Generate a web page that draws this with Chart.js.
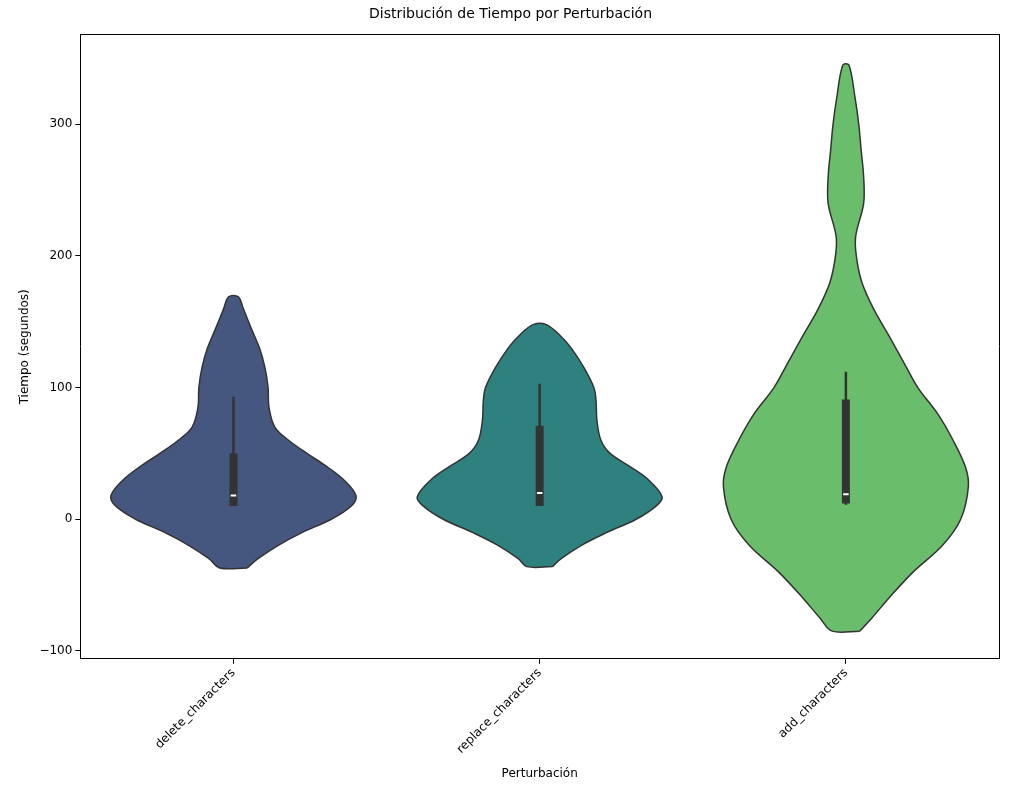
<!DOCTYPE html>
<html>
<head>
<meta charset="utf-8">
<script src="https://cdn.jsdelivr.net/npm/chart.js@4"></script>
<style>
  body { margin: 0; background: #fff; }
  #wrap { width: 1017px; height: 791px; }
</style>
</head>
<body>
<div id="wrap"><canvas id="violin"></canvas></div>
<script>
const categories = ['delete_characters', 'replace_characters', 'add_characters'];
const colours = ['#45577f', '#2e817e', '#6abd6a'];

// density outline: value levels and half-widths (in category units)
const deleteLevels = [-37, -30, -20, -10, 0, 10, 18, 30, 40, 50, 60, 70, 85, 100, 115, 130, 145, 160, 169];
const deleteWidths = [0.045, 0.08, 0.145, 0.225, 0.32, 0.385, 0.4, 0.36, 0.305, 0.24, 0.18, 0.135, 0.116, 0.113, 0.103, 0.085, 0.058, 0.032, 0.016];
const replaceLevels = [-36, -30, -20, -10, 0, 10, 17, 30, 40, 50, 60, 75, 90, 100, 115, 130, 140, 148];
const replaceWidths = [0.042, 0.07, 0.135, 0.22, 0.315, 0.38, 0.4, 0.355, 0.295, 0.23, 0.2, 0.187, 0.184, 0.177, 0.145, 0.103, 0.065, 0.02];
const addLevels = [-85, -75, -60, -40, -20, 0, 25, 40, 60, 80, 100, 120, 140, 160, 180, 200, 215, 240, 260, 280, 300, 320, 345];
const addWidths = [0.045, 0.085, 0.14, 0.22, 0.315, 0.375, 0.4, 0.39, 0.35, 0.3, 0.235, 0.187, 0.139, 0.09, 0.052, 0.034, 0.032, 0.058, 0.058, 0.05, 0.042, 0.03, 0.01];

// box stats: min whisker, q1, median, q3, max whisker
const lowWhisker = [10, 10, 11];
const q1 = [10, 10, 12];
const medians = [18, 20, 19];
const q3 = [50, 71, 91];
const highWhisker = [93, 103, 112];

const levels = [deleteLevels, replaceLevels, addLevels];
const widths = [deleteWidths, replaceWidths, addWidths];

const datasets = [];
levels.forEach((lv, i) => {
    let right = lv.map((y, k) => ({ x: i + widths[i][k], y: y }));
    let left = lv.map((y, k) => ({ x: i - widths[i][k], y: y })).reverse();
    datasets.push({
        data: right.concat(left, [right[0]]),
        showLine: true,
        tension: 0.35,
        borderColor: '#333333',
        borderWidth: 1.5,
        backgroundColor: colours[i],
        fill: 'shape',
        pointRadius: 0,
        order: 10,
    });
    datasets.push({
        data: [{ x: i, y: lowWhisker[i] }, { x: i, y: highWhisker[i] }],
        showLine: true, borderColor: '#333333', borderWidth: 2.5, pointRadius: 0, order: 3,
    });
    datasets.push({
        data: [{ x: i, y: q1[i] }, { x: i, y: q3[i] }],
        showLine: true, borderColor: '#333333', borderWidth: 8, pointRadius: 0, borderCapStyle: 'butt', order: 2,
    });
    datasets.push({
        data: [{ x: i - 0.009, y: medians[i] }, { x: i + 0.009, y: medians[i] }],
        showLine: true, borderColor: '#ffffff', borderWidth: 2, pointRadius: 0, order: 1,
    });
});

const fontSpec = { family: 'DejaVu Sans', size: 12 };
Chart.defaults.color = '#000';
const tickGrid = { display: true, drawOnChartArea: false, drawTicks: true, tickLength: 5, tickColor: '#000' };

new Chart(document.getElementById('violin').getContext('2d'), {
    type: 'scatter',
    data: { datasets: datasets },
    options: {
        responsive: true,
        maintainAspectRatio: false,
        animation: false,
        layout: { padding: { left: 14, right: 10, top: 0, bottom: 6 } },
        plugins: {
            legend: { display: false },
            tooltip: { enabled: false },
            title: {
                display: true,
                text: 'Distribución de Tiempo por Perturbación',
                font: { family: 'DejaVu Sans', size: 14, weight: 'normal' },
                padding: { top: 6, bottom: 4 },
            },
        },
        scales: {
            x: {
                type: 'linear', min: -0.5, max: 2.5,
                grid: tickGrid,
                border: { color: '#000' },
                afterBuildTicks: (axis) => { axis.ticks = [0, 1, 2].map(v => ({ value: v })); },
                ticks: {
                    font: fontSpec, maxRotation: 45, minRotation: 45, padding: 2,
                    callback: (v) => categories[v],
                },
                title: { display: true, text: 'Perturbación', font: fontSpec, padding: { top: 8 } },
            },
            y: {
                min: -106, max: 368,
                grid: tickGrid,
                border: { color: '#000' },
                afterBuildTicks: (axis) => { axis.ticks = [-100, 0, 100, 200, 300].map(v => ({ value: v })); },
                ticks: { font: fontSpec, callback: (v) => String(v).replace('-', '\u2212') },
                title: { display: true, text: 'Tiempo (segundos)', font: fontSpec },
            },
            x2: {
                type: 'linear', position: 'top', min: 0, max: 1,
                grid: { display: false }, ticks: { display: false },
                border: { color: '#000' },
            },
            y2: {
                position: 'right', min: 0, max: 1,
                grid: { display: false }, ticks: { display: false },
                border: { color: '#000' },
            },
        },
    },
});
</script>
</body>
</html>
